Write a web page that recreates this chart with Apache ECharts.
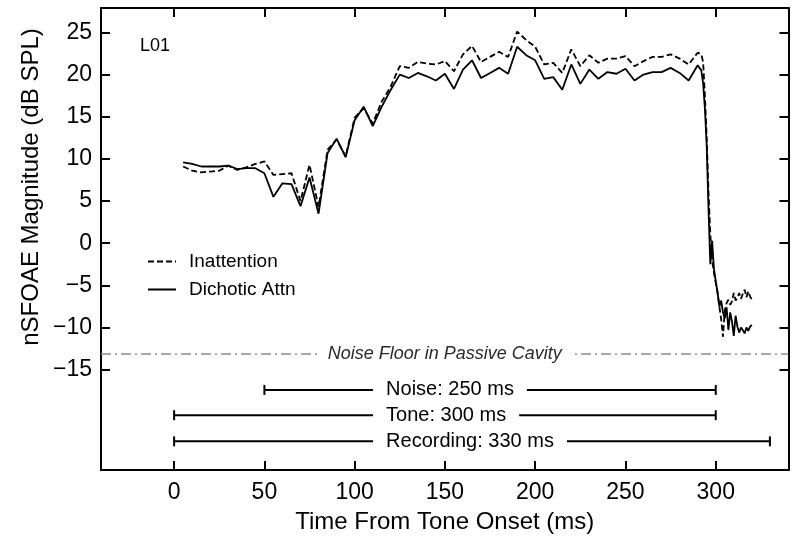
<!DOCTYPE html>
<html><head><meta charset="utf-8">
<script src="https://cdn.jsdelivr.net/npm/echarts@6/dist/echarts.min.js"></script>
<style>html,body{margin:0;padding:0;background:#fff}#c{width:800px;height:544px}</style>
</head><body><div id="c"></div>
<script>
const times = [5,10,15,20,25,30,35,40,45,50,55,60,65,70,75,80,85,90,95,100,
  105,110,115,120,125,130,135,140,145,150,155,160,165,170,175,180,185,190,195,200,
  205,210,215,220,225,230,235,240,245,250,255,260,265,270,275,280,285,290,
  291,292,293,294,295,296,297,298,299,300,301,302,303,304,305,306,307,308,309,310,
  311,312,313,314,315,316,317,318,319,320];
const inattention = [9.1,8.6,8.4,8.5,8.6,9.2,8.7,9.0,9.4,9.7,
  8.1,8.2,8.3,5.0,9.3,4.3,11.1,12.3,10.3,14.9,
  16.0,14.2,16.8,18.6,21.0,20.8,21.5,21.3,21.2,21.6,
  20.4,22.4,23.4,21.5,22.1,22.7,22.1,25.1,24.1,23.3,
  21.2,21.4,20.2,23.0,21.0,22.3,21.4,21.9,21.9,22.2,
  21.0,21.6,22.1,22.1,22.4,21.9,21.2,22.6,
  22.6,22.4,21.5,17.5,12.5,6.0,1.0,-2.0,-3.5,-4.7,
  -5.9,-7.5,-9.0,-11.1,-8.0,-7.1,-6.7,-7.3,-6.9,-5.9,
  -6.8,-6.5,-5.9,-6.6,-6.0,-5.5,-6.4,-5.7,-6.3,-6.7];
const dichotic = [9.6,9.4,9.1,9.1,9.1,9.2,8.8,8.9,8.9,8.3,
  5.5,7.1,7.0,4.4,7.8,3.5,10.7,12.4,10.2,14.6,
  16.2,13.9,16.2,18.2,20.0,19.6,20.2,19.8,19.3,20.1,
  18.3,20.6,21.7,19.6,20.2,20.8,20.1,23.3,22.3,21.7,
  19.5,19.7,18.2,21.2,18.9,20.6,19.5,20.3,20.1,20.7,
  19.3,20.0,20.3,20.3,20.8,20.2,19.3,21.1,
  20.8,20.5,19.0,16.0,11.5,4.0,-2.5,0.3,-3.0,-4.5,
  -5.8,-7.5,-6.8,-8.2,-8.9,-7.6,-10.3,-8.2,-9.3,-11.0,
  -8.6,-9.9,-10.6,-10.0,-10.3,-10.7,-10.0,-10.4,-9.9,-9.7];
const xTicks = [0,50,100,150,200,250,300];
const yTicks = [-15,-10,-5,0,5,10,15,20,25];
const noiseFloor = -13.17;
const noiseFloorLabel = 'Noise Floor in Passive Cavity';
const spanLabels = ['Noise: 250 ms','Tone: 300 ms','Recording: 330 ms'];
const spanStart = [50,0,0];
const spanEnd = [300,300,330];
const spanLevel = [-17.4,-20.4,-23.5];
const spanLabelAt = 117.4;
const seriesNames = ['Inattention','Dichotic Attn'];
const panelLabel = 'L01';

const FONT = "'Liberation Sans', Arial, Helvetica, sans-serif";
const XMIN = -40.5, XMAX = 340.3, YMIN = -26.9, YMAX = 27.9;
const chart = echarts.init(document.getElementById('c'));
const pairs = vals => times.map((t,i)=>[t, vals[i]]);
const minus = v => String(v).replace('-', '\u2212');
const axisBase = {
  type:'value', splitLine:{show:false},
  axisLine:{show:true, onZero:false, lineStyle:{color:'#000', width:2}},
  axisTick:{show:true, inside:true, length:9, lineStyle:{color:'#000', width:2}}
};
const xa = (pos, labels) => Object.assign({}, axisBase, {
  position:pos, min:XMIN, max:XMAX,
  axisTick:Object.assign({}, axisBase.axisTick, {customValues:xTicks}),
  axisLabel:{show:labels, customValues:xTicks, fontSize:23, fontFamily:FONT, color:'#000', margin:11},
});
const ya = (pos, labels) => Object.assign({}, axisBase, {
  position:pos, min:YMIN, max:YMAX,
  axisTick:Object.assign({}, axisBase.axisTick, {customValues:yTicks}),
  axisLabel:{show:labels, customValues:yTicks, fontSize:23, fontFamily:FONT, color:'#000', margin:9, formatter:minus},
});
const xBottom = xa('bottom', true);
xBottom.name = 'Time From Tone Onset (ms)';
xBottom.nameLocation = 'middle';
xBottom.nameGap = 40;
xBottom.nameTextStyle = {fontSize:24, fontFamily:FONT, color:'#000'};

chart.setOption({
  animation:false,
  backgroundColor:'#fff',
  grid:{left:101, right:11.5, top:8, bottom:74},
  xAxis:[xBottom, xa('top', false)],
  yAxis:[ya('left', true), ya('right', false)],
  legend:{
    orient:'vertical', left:142, top:247, itemWidth:28, itemHeight:14, itemGap:9,
    data:seriesNames,
    itemStyle:{color:'rgba(0,0,0,0)', borderWidth:0, opacity:0},
    textStyle:{fontSize:19, fontFamily:FONT, color:'#000', padding:[0,0,0,8]}
  },
  graphic:[
    {type:'text', x:31, y:187, rotation:Math.PI/2,
      style:{text:'nSFOAE Magnitude (dB SPL)', fontSize:24, fontFamily:FONT, fill:'#000', align:'center', verticalAlign:'middle'}},
    {type:'text', x:140, y:46,
      style:{text:panelLabel, fontSize:18, fontFamily:FONT, fill:'#000', align:'left', verticalAlign:'middle'}}
  ],
  series:[
    {name:seriesNames[0], type:'line', data:pairs(inattention), symbol:'none', showSymbol:false,
      lineStyle:{color:'#000', width:1.8, type:[6,3]}, itemStyle:{color:'#000'},
      markLine:{silent:true, symbol:'none', label:{show:false},
        lineStyle:{color:'#8c8c8c', width:1.6, type:[10,4,2,4]},
        data:[{yAxis:noiseFloor}]}},
    {name:seriesNames[1], type:'line', data:pairs(dichotic), symbol:'none', showSymbol:false,
      lineStyle:{color:'#000', width:1.8}, itemStyle:{color:'#000'}},
    {type:'custom', silent:true, z:5,
      data:[[ (XMIN+XMAX)/2, noiseFloor ]],
      renderItem:function(params, api){
        const p = api.coord([api.value(0), api.value(1)]);
        return {type:'text', x:p[0], y:p[1], style:{text:noiseFloorLabel, fontSize:18, fontStyle:'italic', fontFamily:FONT,
          fill:'#2a2a2a', align:'center', verticalAlign:'middle', backgroundColor:'#fff', padding:[0,9]}};
      }},
    {type:'custom', silent:true, z:5,
      data:spanLabels.map((l,i)=>[spanStart[i], spanEnd[i], spanLevel[i], i]),
      renderItem:function(params, api){
        const i = api.value(3);
        const p0 = api.coord([api.value(0), api.value(2)]);
        const p1 = api.coord([api.value(1), api.value(2)]);
        const tx = api.coord([spanLabelAt, api.value(2)])[0];
        const st = {stroke:'#000', lineWidth:2};
        return {type:'group', children:[
          {type:'line', shape:{x1:p0[0], y1:p0[1], x2:p1[0], y2:p1[1]}, style:st},
          {type:'line', shape:{x1:p0[0], y1:p0[1]-5, x2:p0[0], y2:p0[1]+5}, style:st},
          {type:'line', shape:{x1:p1[0], y1:p1[1]-5, x2:p1[0], y2:p1[1]+5}, style:st},
          {type:'text', x:tx-13, y:p0[1], style:{text:spanLabels[i], fontSize:20, fontFamily:FONT, fill:'#000',
            align:'left', verticalAlign:'middle', backgroundColor:'#fff', padding:[0,13]}}
        ]};
      }}
  ]
});
</script></body></html>
